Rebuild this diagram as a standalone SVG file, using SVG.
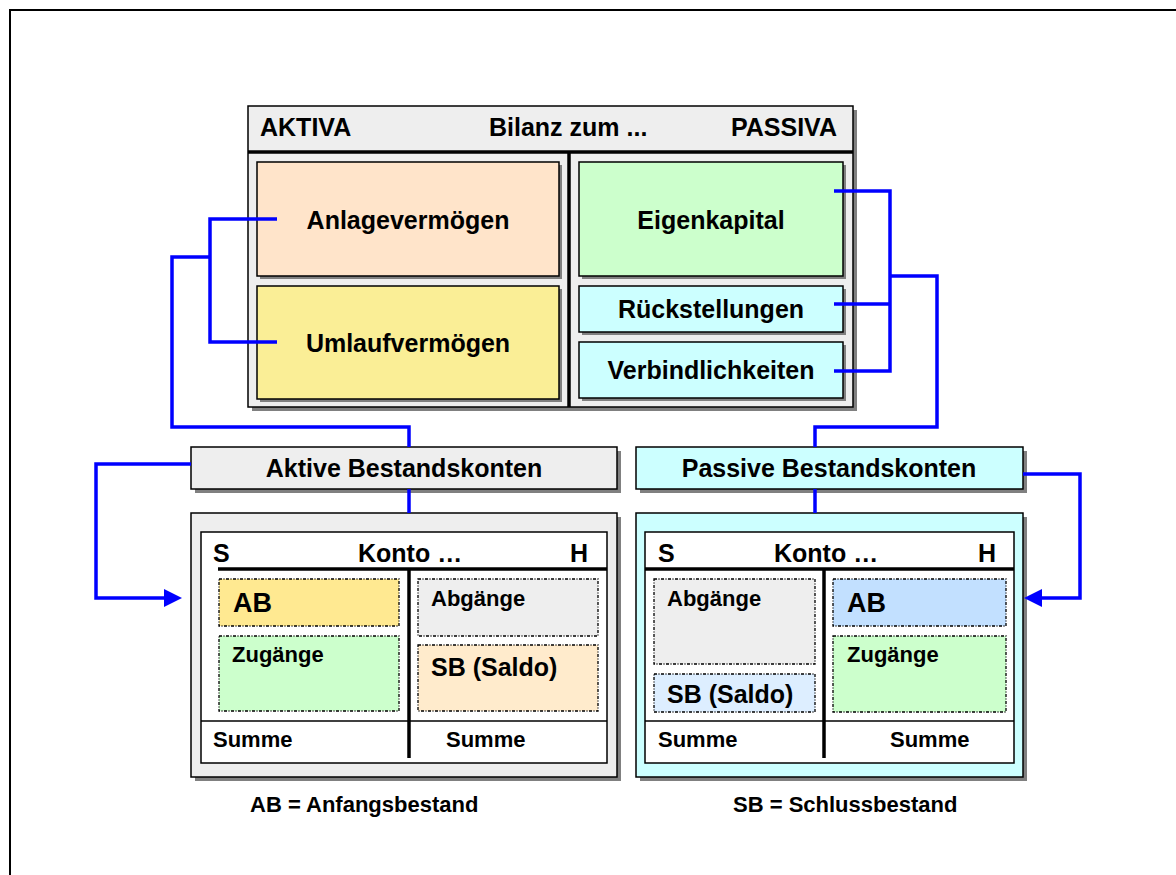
<svg xmlns="http://www.w3.org/2000/svg" width="1176" height="875" viewBox="0 0 1176 875">
<defs>
<style>
text{font-family:"Liberation Sans",Arial,sans-serif;font-weight:bold;fill:#000}
.big{font-size:25px}
.mid{font-size:22px}
.ab{font-size:27px}
.sb{font-size:25px}
.ctr{text-anchor:middle}
.box{stroke:#000;stroke-width:1.5}
.shadow{fill:#808080}
.dash{stroke:#000;stroke-width:1.3;stroke-dasharray:3 1.5 1 1.5}
.con{fill:none;stroke:#0000FF;stroke-width:3.5;stroke-linejoin:miter}
.thick{stroke:#000;stroke-width:3.5}
.thin{stroke:#000;stroke-width:1.5}
</style>
<marker id="arr" markerWidth="18" markerHeight="18" refX="0" refY="9" orient="auto" markerUnits="userSpaceOnUse">
<path d="M0,0 L18,9 L0,18 Z" fill="#0000FF"/>
</marker>
</defs>
<rect x="0" y="0" width="1176" height="875" fill="#fff"/>
<rect x="10" y="10" width="1200" height="900" fill="none" stroke="#000" stroke-width="2"/>

<g id="bilanz">
<rect class="shadow" x="252" y="110" width="605" height="301"/>
<rect class="box" x="248" y="106" width="605" height="301" fill="#EEEEEE"/>
<line class="thick" x1="248" y1="152" x2="853" y2="152"/>
<line class="thick" x1="569" y1="152" x2="569" y2="407"/>
<text class="big" x="260" y="136">AKTIVA</text>
<text class="big" x="489" y="136">Bilanz zum ...</text>
<text class="big" x="837" y="136" text-anchor="end">PASSIVA</text>
</g>

<g id="anlagevermoegen">
<rect class="shadow" x="260" y="165" width="302" height="114"/>
<rect class="box" x="257" y="162" width="302" height="114" fill="#FFE4CA"/>
<text class="big ctr" x="408" y="229">Anlagevermögen</text>
</g>
<g id="umlaufvermoegen">
<rect class="shadow" x="260" y="289" width="302" height="113"/>
<rect class="box" x="257" y="286" width="302" height="113" fill="#FAEE96"/>
<text class="big ctr" x="408" y="352">Umlaufvermögen</text>
</g>
<g id="eigenkapital">
<rect class="shadow" x="582" y="165" width="264" height="114"/>
<rect class="box" x="579" y="162" width="264" height="114" fill="#CCFFCC"/>
<text class="big ctr" x="711" y="229">Eigenkapital</text>
</g>
<g id="rueckstellungen">
<rect class="shadow" x="582" y="289" width="264" height="46"/>
<rect class="box" x="579" y="286" width="264" height="46" fill="#CCFFFF"/>
<text class="big ctr" x="711" y="318">Rückstellungen</text>
</g>
<g id="verbindlichkeiten">
<rect class="shadow" x="582" y="345" width="264" height="56"/>
<rect class="box" x="579" y="342" width="264" height="56" fill="#CCFFFF"/>
<text class="big ctr" x="711" y="379">Verbindlichkeiten</text>
</g>

<g id="aktive-header">
<rect class="shadow" x="195" y="451" width="426" height="42"/>
<rect class="box" x="191" y="447" width="426" height="42" fill="#EEEEEE"/>
<text class="big ctr" x="404" y="477">Aktive Bestandskonten</text>
</g>
<g id="passive-header">
<rect class="shadow" x="640" y="451" width="387" height="42"/>
<rect class="box" x="636" y="447" width="387" height="42" fill="#CCFFFF"/>
<text class="big ctr" x="829" y="477">Passive Bestandskonten</text>
</g>

<g id="aktive-konto">
<rect class="shadow" x="195" y="517" width="426" height="264"/>
<rect class="box" x="191" y="513" width="426" height="264" fill="#EEEEEE"/>
<rect class="box" x="201" y="532" width="406" height="231" fill="#FFFFFF"/>
<line class="thick" x1="218" y1="569" x2="607" y2="569"/>
<line class="thick" x1="409" y1="569" x2="409" y2="758"/>
<line class="thin" x1="201" y1="721" x2="607" y2="721"/>
<text class="big" x="213" y="562">S</text>
<text class="big" x="358" y="562">Konto …</text>
<text class="big" x="570" y="562">H</text>
<rect class="dash" x="219" y="579" width="180" height="47" fill="#FFE991"/>
<text class="ab" x="233" y="612">AB</text>
<rect class="dash" x="219" y="636" width="180" height="75" fill="#CCFFCC"/>
<text class="mid" x="232" y="662">Zugänge</text>
<rect class="dash" x="418" y="579" width="180" height="57" fill="#EEEEEE"/>
<text class="mid" x="431" y="606">Abgänge</text>
<rect class="dash" x="418" y="645" width="180" height="66" fill="#FFEBCC"/>
<text class="sb" x="431" y="676">SB (Saldo)</text>
<text class="mid" x="213" y="747">Summe</text>
<text class="mid" x="446" y="747">Summe</text>
</g>

<g id="passive-konto">
<rect class="shadow" x="640" y="517" width="387" height="264"/>
<rect class="box" x="636" y="513" width="387" height="264" fill="#CCFFFF"/>
<rect class="box" x="645" y="532" width="369" height="231" fill="#FFFFFF"/>
<line class="thick" x1="645" y1="569" x2="1014" y2="569"/>
<line class="thick" x1="824" y1="569" x2="824" y2="758"/>
<line class="thin" x1="645" y1="721" x2="1014" y2="721"/>
<text class="big" x="658" y="562">S</text>
<text class="big" x="774" y="562">Konto …</text>
<text class="big" x="978" y="562">H</text>
<rect class="dash" x="654" y="579" width="161" height="85" fill="#EEEEEE"/>
<text class="mid" x="667" y="606">Abgänge</text>
<rect class="dash" x="654" y="674" width="161" height="38" fill="#DDEEFF"/>
<text class="sb" x="667" y="703">SB (Saldo)</text>
<rect class="dash" x="833" y="579" width="173" height="47" fill="#C2E0FF"/>
<text class="ab" x="847" y="612">AB</text>
<rect class="dash" x="833" y="636" width="173" height="76" fill="#CCFFCC"/>
<text class="mid" x="847" y="662">Zugänge</text>
<text class="mid" x="658" y="747">Summe</text>
<text class="mid" x="890" y="747">Summe</text>
</g>

<g id="legend">
<text class="mid" x="250" y="812">AB = Anfangsbestand</text>
<text class="mid" x="733" y="812">SB = Schlussbestand</text>
</g>

<g id="connectors">
<path class="con" d="M277,219 H210 V342 H277"/>
<path class="con" d="M210,257 H172 V427 H409 V447"/>
<path class="con" d="M409,489 V513"/>
<path class="con" d="M834,191 H890 V371 H834 M834,304 H890"/>
<path class="con" d="M890,276 H937 V427 H815 V447"/>
<path class="con" d="M815,489 V513"/>
<path class="con" d="M191,464 H96 V598 H164" marker-end="url(#arr)"/>
<path class="con" d="M1023,474 H1080 V598 H1042" marker-end="url(#arr)"/>
</g>
</svg>
